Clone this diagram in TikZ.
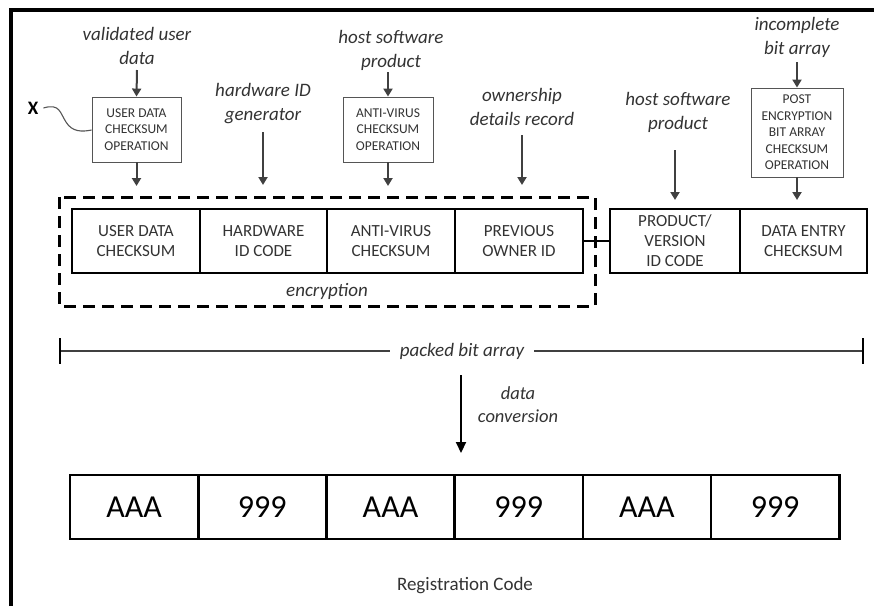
\documentclass[tikz,border=0pt]{standalone}
\usepackage{fontspec}
\setmainfont{Carlito}
\usetikzlibrary{arrows.meta,shadows}
\definecolor{inkgray}{HTML}{404040}
\definecolor{boxgray}{HTML}{555555}
\definecolor{txtgray}{HTML}{333333}
\tikzset{
  label/.style={font=\fontsize{19}{24}\selectfont\itshape, text=txtgray, align=center, inner sep=0pt},
  opbox/.style={draw=boxgray, line width=0.9pt, fill=white, text=txtgray, align=center,
    font=\fontsize{13.5}{16.5}\selectfont, inner sep=0pt,
    drop shadow={shadow xshift=1.2pt, shadow yshift=-1.2pt, opacity=0.25}},
  cell/.style={draw=black, line width=2.4pt, text=txtgray, align=center,
    font=\fontsize{17}{20}\selectfont, inner sep=0pt},
  codecell/.style={draw=black, line width=2.6pt, align=center,
    font=\fontsize{32}{34}\selectfont, inner sep=0pt},
  feed/.style={draw=inkgray, line width=2pt, -{Triangle[length=8pt,width=9pt]}},
}
\begin{document}
\begin{tikzpicture}[x=1pt,y=-1pt]
\useasboundingbox (0,0) rectangle (874,606);

% outer frame (top and left edges)
\draw[line width=4pt] (11,606) -- (11,10) -- (874,10);

% ---- input labels and checksum operations ----
\node[label] (lab1) at (137,46) {validated user\\data};
\node[opbox, minimum width=89pt, minimum height=65pt] (op1) at (136.5,129.5) {USER DATA\\CHECKSUM\\OPERATION};
\coordinate (s1) at (137,70);
\coordinate (d1) at (136.5,186);

\node[label] (lab2) at (263,104) {hardware ID\\generator};
\coordinate (s2) at (263,132);
\coordinate (d2) at (263,185);

\node[label] (lab3) at (391,50) {host software\\product};
\node[opbox, minimum width=90pt, minimum height=65pt] (op3) at (388,129.5) {ANTI-VIRUS\\CHECKSUM\\OPERATION};
\coordinate (s3) at (388,72);
\coordinate (d3) at (388,186);

\node[label] (lab4) at (522,107) {ownership\\details record};
\coordinate (s4) at (522,135);
\coordinate (d4) at (522,185);

\node[label] (lab5) at (678,112) {host software\\product};
\coordinate (s5) at (675,150);
\coordinate (d5) at (675,200);

\node[label] (lab6) at (797,37) {incomplete\\bit array};
\node[opbox, minimum width=92pt, minimum height=89pt] (op6) at (797,132.5) {POST\\ENCRYPTION\\BIT ARRAY\\CHECKSUM\\OPERATION};
\coordinate (s6) at (797,62);
\coordinate (d6) at (797,200);

% X marker with its wavy leader
\node[font=\fontsize{19}{20}\selectfont\bfseries, inner sep=0pt] (xm) at (33,108) {X};
\draw[boxgray, line width=1.1pt] (xm.east) ++(5,0) .. controls (60,103) and (60,113) .. (66,122)
  .. controls (72,132) and (82,132) .. (op1.west |- 0,130);

% feed arrows
\draw[feed] (s1) -- (op1.north);
\draw[feed] (op1.south) -- (d1);
\draw[feed] (s2) -- (d2);
\draw[feed] (s3) -- (op3.north);
\draw[feed] (op3.south) -- (d3);
\draw[feed] (s4) -- (d4);
\draw[feed] (s5) -- (d5);
\draw[feed] (s6) -- (op6.north);
\draw[feed] (op6.south) -- (d6);

% ---- packed data row ----
\node[cell, minimum width=128pt, minimum height=64pt] (c1) at (136,241) {USER DATA\\CHECKSUM};
\node[cell, minimum width=127pt, minimum height=64pt] (c2) at (263.5,241) {HARDWARE\\ID CODE};
\node[cell, minimum width=128pt, minimum height=64pt] (c3) at (391,241) {ANTI-VIRUS\\CHECKSUM};
\node[cell, minimum width=128pt, minimum height=64pt] (c4) at (519,241) {PREVIOUS\\OWNER ID};
\node[cell, minimum width=130pt, minimum height=64pt] (c5) at (675,241) {PRODUCT/\\VERSION\\ID CODE};
\node[cell, minimum width=127pt, minimum height=64pt] (c6) at (803.5,241) {DATA ENTRY\\CHECKSUM};
\draw[black, line width=1.4pt] (c4.east) -- (c5.west);

% encryption boundary
\draw[line width=3pt, dash pattern=on 12pt off 7pt] (59,197) rectangle (595,306);
\node[label] (enc) at (327,291) {encryption};

% packed bit array span
\node[label, fill=white, inner xsep=10pt] (pba) at (462,351) {packed bit array};
\coordinate (pl) at (60,351);
\coordinate (pr) at (863,351);
\draw[inkgray, line width=2.4pt] (pl) -- (pba.west);
\draw[inkgray, line width=2.4pt] (pba.east) -- (pr);
\draw[black, line width=2pt] (60,338) -- (60,364);
\draw[black, line width=2pt] (863,338) -- (863,364);

% data conversion
\coordinate (dc0) at (461,375);
\coordinate (dc1) at (461,453);
\draw[black, line width=2pt, -{Triangle[length=11pt,width=10pt]}] (dc0) -- (dc1);
\node[label, font=\fontsize{18.5}{23}\selectfont\itshape] (dcl) at (518,405) {data\\conversion};

% ---- registration code ----
\foreach \i/\t in {0/AAA,1/999,2/AAA,3/999,4/AAA,5/999}{
  \node[codecell, minimum width=128.2pt, minimum height=64pt] (r\i) at ({134.1+128.2*\i},507) {\t};
}
\node[font=\fontsize{19}{22}\selectfont, text=txtgray, inner sep=0pt] (reg) at (465,586) {Registration Code};
\end{tikzpicture}
\end{document}
